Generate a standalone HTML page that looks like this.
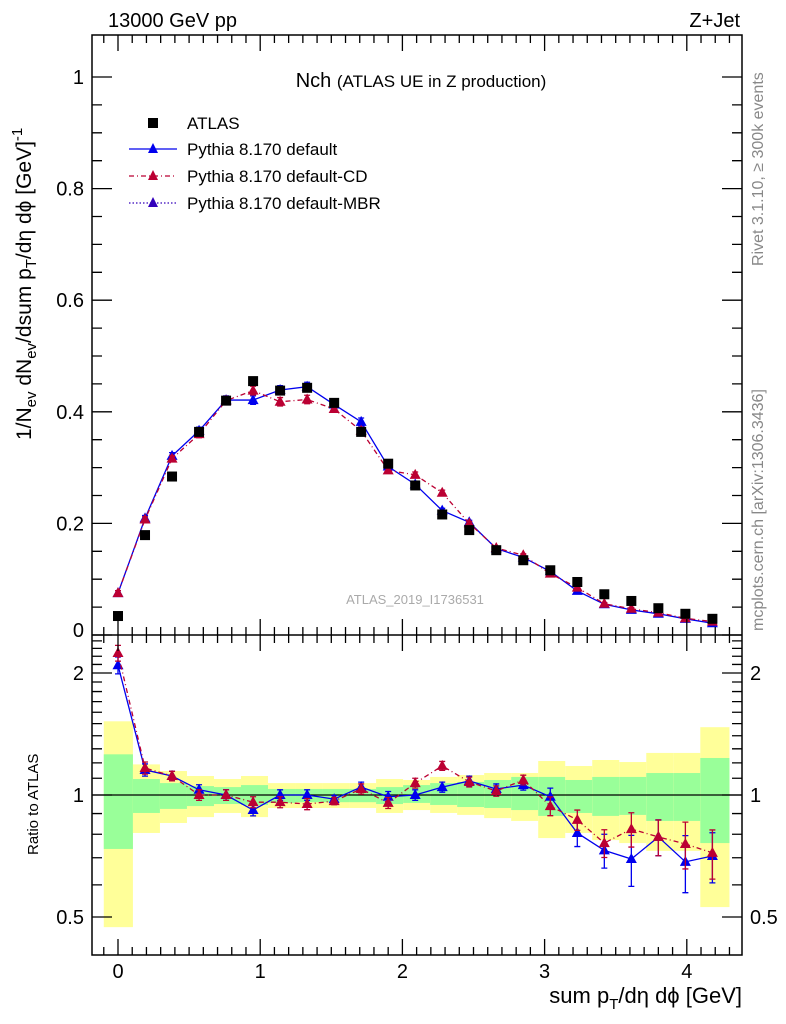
<!DOCTYPE html>
<html><head><meta charset="utf-8"><style>
html,body{margin:0;padding:0;background:#fff;}
svg{display:block;font-family:"Liberation Sans","DejaVu Sans",sans-serif;}
</style></head><body>
<svg id="chart" width="786" height="1024" viewBox="0 0 786 1024" xmlns="http://www.w3.org/2000/svg">
<g id="bands"></g>
<g id="marks"></g>
<g id="axes"></g>
<text x="108" y="27" font-size="20">13000 GeV pp</text>
<text x="740" y="27" font-size="20" text-anchor="end">Z+Jet</text>
<text x="421" y="87" font-size="20" text-anchor="middle">Nch <tspan font-size="17">(ATLAS UE in Z production)</tspan></text>
<text x="415" y="604" font-size="13" fill="#aaa" text-anchor="middle">ATLAS_2019_I1736531</text>
<text transform="translate(763,266) rotate(-90)" font-size="16" fill="#888">Rivet 3.1.10, ≥ 300k events</text>
<text transform="translate(763,631) rotate(-90)" font-size="16" fill="#888">mcplots.cern.ch [arXiv:1306.3436]</text>
<text transform="translate(31,440) rotate(-90)" font-size="21">1/N<tspan font-size="15" dy="5">ev</tspan><tspan dy="-5"> dN</tspan><tspan font-size="15" dy="5">ev</tspan><tspan dy="-5">/dsum p</tspan><tspan font-size="15" dy="5">T</tspan><tspan dy="-5">/dη dϕ  [GeV]</tspan><tspan font-size="15" dy="-9">-1</tspan></text>
<text transform="translate(38,855) rotate(-90)" font-size="15">Ratio to ATLAS</text>
<text x="742" y="1003" font-size="22" text-anchor="end">sum p<tspan font-size="15" dy="6">T</tspan><tspan dy="-6">/dη dϕ [GeV]</tspan></text>
<g id="legend">
<rect x="148" y="118" width="10" height="10" fill="#000"/>
<text x="187" y="129" font-size="17">ATLAS</text>
<line x1="129" y1="149" x2="177" y2="149" stroke="#0000ee" stroke-width="1.3"/>
<path d="M153,143 L158,153 L148,153Z" fill="#0000ee"/>
<text x="187" y="155" font-size="17">Pythia 8.170 default</text>
<line x1="129" y1="176" x2="177" y2="176" stroke="#bb0033" stroke-width="1.3" stroke-dasharray="5,3,1,3"/>
<path d="M153,170 L158,180 L148,180Z" fill="#bb0033"/>
<text x="187" y="182" font-size="17">Pythia 8.170 default-CD</text>
<line x1="129" y1="203" x2="177" y2="203" stroke="#3300bb" stroke-width="1.3" stroke-dasharray="1.5,2"/>
<path d="M153,197 L158,207 L148,207Z" fill="#3300bb"/>
<text x="187" y="209" font-size="17">Pythia 8.170 default-MBR</text>
</g>
</svg>
<script>
const xs=[0,0.19,0.38,0.57,0.76,0.95,1.14,1.33,1.52,1.71,1.9,2.09,2.28,2.47,2.66,2.85,3.04,3.23,3.42,3.61,3.8,3.99,4.18];
const binEdges=[-0.1,0.105,0.295,0.485,0.675,0.865,1.055,1.245,1.435,1.625,1.815,2.005,2.195,2.385,2.575,2.765,2.955,3.145,3.335,3.525,3.715,3.905,4.095,4.3];
const atlas=[0.034,0.179,0.284,0.364,0.420,0.455,0.438,0.443,0.416,0.364,0.307,0.268,0.216,0.188,0.152,0.134,0.116,0.095,0.073,0.061,0.048,0.038,0.029];
const pyDefault=[0.075,0.209,0.321,0.366,0.421,0.421,0.439,0.445,0.413,0.382,0.302,0.270,0.223,0.202,0.155,0.139,0.114,0.079,0.055,0.045,0.038,0.029,0.021];
const pyCD=[0.075,0.207,0.316,0.360,0.420,0.438,0.418,0.422,0.405,0.366,0.295,0.287,0.255,0.200,0.156,0.143,0.110,0.085,0.056,0.047,0.040,0.030,0.024];
const ratioDefault=[2.09,1.153,1.114,1.03,1.0,0.918,1.0,1.0,0.977,1.046,0.99,1.0,1.046,1.083,1.035,1.058,0.99,0.806,0.73,0.695,0.788,0.684,0.707];
const ratioCD=[2.24,1.166,1.114,1.0,1.0,0.96,0.96,0.95,0.966,1.035,0.956,1.07,1.18,1.077,1.023,1.089,0.939,0.868,0.761,0.824,0.788,0.757,0.72];
const errDefault=[0.1,0.04,0.03,0.03,0.03,0.03,0.03,0.03,0.02,0.03,0.03,0.03,0.03,0.03,0.03,0.03,0.05,0.06,0.07,0.1,0.08,0.11,0.1];
const errCD=[0.1,0.04,0.03,0.03,0.03,0.03,0.03,0.03,0.02,0.03,0.03,0.03,0.03,0.03,0.03,0.03,0.05,0.05,0.06,0.08,0.08,0.1,0.1];
const yellowHi=[1.52,1.19,1.146,1.114,1.095,1.114,1.07,1.07,1.07,1.07,1.095,1.089,1.108,1.12,1.133,1.133,1.213,1.179,1.22,1.206,1.27,1.27,1.47];
const greenHi=[1.26,1.095,1.07,1.052,1.046,1.058,1.035,1.035,1.035,1.035,1.046,1.058,1.07,1.077,1.089,1.108,1.108,1.089,1.108,1.108,1.133,1.133,1.234];
const greenLo=[0.736,0.903,0.924,0.939,0.95,0.945,0.956,0.96,0.96,0.96,0.95,0.956,0.945,0.934,0.929,0.918,0.888,0.903,0.888,0.893,0.863,0.863,0.761];
const yellowLo=[0.472,0.806,0.853,0.882,0.903,0.882,0.929,0.929,0.929,0.929,0.903,0.918,0.903,0.893,0.877,0.863,0.783,0.806,0.774,0.761,0.728,0.728,0.529];
const xTicks=[0,1,2,3,4];
const yTicks=[0,0.2,0.4,0.6,0.8,1];
const yTickLabels=["0","0.2","0.4","0.6","0.8","1"];
const rTicks=[0.5,1,2];
const rTickLabels=["0.5","1","2"];

const L=92,R=742,T=35,M=635,B=955;
const X=v=>118+v*142.2;
const Y=v=>635-v*558;
const RY=r=>795-122*Math.log2(r);
const NS="http://www.w3.org/2000/svg";
function mk(parent,tag,attrs){const e=document.createElementNS(NS,tag);for(const k in attrs)e.setAttribute(k,attrs[k]);document.getElementById(parent).appendChild(e);return e;}

for(let i=0;i<xs.length;i++){
  const x0=X(binEdges[i]),x1=X(binEdges[i+1]);
  let e=mk('bands','rect',{x:x0,y:RY(yellowHi[i]),width:x1-x0,height:RY(yellowLo[i])-RY(yellowHi[i]),fill:'#ffff99'});
  
  
  e=mk('bands','rect',{x:x0,y:RY(greenHi[i]),width:x1-x0,height:RY(greenLo[i])-RY(greenHi[i]),fill:'#99ff99'});
  
  
}
let ln=mk('bands','line',{x1:L,x2:R,y1:RY(1),y2:RY(1),stroke:'#000','stroke-width':1.3});



function tri(x,y,c,name){const e=mk('marks','path',{d:`M${x},${y-6} L${x+5.5},${y+4} L${x-5.5},${y+4}Z`,fill:c});
  
  }
function series(vals,yf,c,dash,name,errs){
  const pts=vals.map((v,i)=>X(xs[i])+','+yf(v)).join(' ');
  const p=mk('marks','polyline',{points:pts,fill:'none',stroke:c,'stroke-width':1.3,'stroke-dasharray':dash});
  
  
  vals.forEach((v,i)=>{
    const x=X(xs[i]);
    if(errs){const y1=yf(v+errs[i]),y2=yf(Math.max(v-errs[i],0.01));
      const eb=mk('marks','path',{d:`M${x},${y1}V${y2}M${x-3},${y1}H${x+3}M${x-3},${y2}H${x+3}`,stroke:c,'stroke-width':1.3,fill:'none'});
      
      }
    tri(x,yf(v),c,name+'-point');
  });
}
series(pyDefault,Y,'#0000ee','none','default',pyDefault.map((v,i)=>v*errDefault[i]*0.6));
series(pyCD,Y,'#bb0033','5,3,1,3','cd',pyCD.map((v,i)=>v*errCD[i]*0.6));
atlas.forEach((v,i)=>{const r=mk('marks','rect',{x:X(xs[i])-5,y:Y(v)-5,width:10,height:10,fill:'#000'});
  
  });
series(ratioDefault,RY,'#0000ee','none','default-ratio',errDefault);
series(ratioCD,RY,'#bb0033','5,3,1,3','cd-ratio',errCD);

let f=mk('axes','rect',{x:L,y:T,width:R-L,height:B-T,fill:'none',stroke:'#000','stroke-width':1.5});


f=mk('axes','line',{x1:L,x2:R,y1:M,y2:M,stroke:'#000','stroke-width':1.5});


let d='';
for(let v=-0.1;v<=4.31;v+=0.1){const x=X(v);const maj=Math.abs(v-Math.round(v))<1e-6;const l=maj?16:8;
  d+=`M${x},${T}v${l}M${x},${M}v${-l}M${x},${M}v${l}M${x},${B}v${-l}`;}
for(let v=0;v<=1.05;v+=0.05){const y=Y(v);const maj=Math.abs(v*5-Math.round(v*5))<1e-6;const l=maj?20:10;
  d+=`M${L},${y}h${l}M${R},${y}h${-l}`;}
for(let r=0.5;r<=2.45;r+=0.1){const y=RY(r);if(y<M||y>B)continue;const maj=[0.5,1,2].some(m=>Math.abs(m-r)<1e-6);const l=maj?20:10;
  d+=`M${L},${y}h${l}M${R},${y}h${-l}`;}
f=mk('axes','path',{d:d,stroke:'#000','stroke-width':1.3,fill:'none'});


xTicks.forEach(v=>{const t=mk('axes','text',{x:X(v),y:978,'font-size':20,'text-anchor':'middle'});t.textContent=v;
  
  });
yTicks.forEach((v,i)=>{const t=mk('axes','text',{x:84,y:Y(v)+(v===0?2:7),'font-size':20,'text-anchor':'end'});t.textContent=yTickLabels[i];
  
  });
rTicks.forEach((v,i)=>{let t=mk('axes','text',{x:84,y:RY(v)+7,'font-size':20,'text-anchor':'end'});t.textContent=rTickLabels[i];
  
  
  t=mk('axes','text',{x:750,y:RY(v)+7,'font-size':20});t.textContent=rTickLabels[i];
  
  });
</script>
</body></html>
